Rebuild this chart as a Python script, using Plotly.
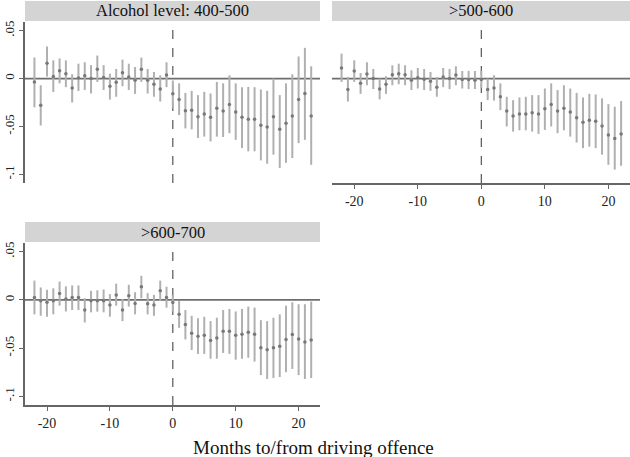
import plotly.graph_objects as go

months = list(range(-22, 23))

titles = ["Alcohol level: 400-500", ">500-600", ">600-700"]
x_title = "Months to/from driving offence"
y_tickvals = [-0.1, -0.05, 0, 0.05]
y_ticktext = ["-.1", "-.05", "0", ".05"]
x_tickvals = [-20, -10, 0, 10, 20]
x_ticktext = ["-20", "-10", "0", "10", "20"]

est_400 = [-0.0035, -0.028, 0.016, 0.002, 0.008, 0.005, -0.010, 0.0006, 0.003, 0.000, 0.0097,
           0.001, -0.008, -0.0038, 0.006, 0.0017, -0.0018, 0.0097, -0.0018, -0.006, -0.011, 0.0037,
           -0.016, -0.0218, -0.0336, -0.033, -0.040, -0.037, -0.0405, -0.031, -0.034, -0.027, -0.035,
           -0.0405, -0.0425, -0.0425, -0.0487, -0.0505, -0.040, -0.053, -0.0467, -0.039, -0.0218, -0.0156, -0.039]
lo_400 = [-0.030, -0.049, 0.002, -0.014, -0.005, -0.009, -0.025, -0.013, -0.012, -0.0156, -0.0035,
          -0.012, -0.022, -0.019, -0.008, -0.012, -0.016, -0.0035, -0.0156, -0.019, -0.024, -0.009,
          -0.031, -0.038, -0.052, -0.053, -0.062, -0.0606, -0.0657, -0.0606, -0.061, -0.057, -0.064,
          -0.0726, -0.076, -0.076, -0.0854, -0.0889, -0.0795, -0.0933, -0.088, -0.083, -0.0674, -0.064, -0.090]
hi_400 = [0.022, -0.007, 0.0335, 0.019, 0.021, 0.019, 0.0045, 0.0155, 0.017, 0.014, 0.024,
          0.014, 0.005, 0.010, 0.0197, 0.0155, 0.012, 0.0218, 0.010, 0.0068, 0.0034, 0.017,
          -0.002, -0.005, -0.015, -0.0128, -0.0173, -0.0139, -0.0156, -0.0035, -0.005, 0.0034, -0.005,
          -0.009, -0.0087, -0.009, -0.0114, -0.0128, 0.000, -0.0173, -0.005, 0.0045, 0.023, 0.032, 0.0128]

est_500 = [0.011, -0.0114, 0.0079, -0.005, 0.0048, 0.000, -0.011, -0.006, 0.004, 0.005, 0.004,
           -0.0018, 0.0007, -0.0007, -0.0028, -0.009, 0.0017, 0.000, 0.0037, -0.001, -0.001, -0.0018,
           -0.001, -0.0114, -0.010, -0.019, -0.034, -0.039, -0.037, -0.037, -0.0357, -0.037, -0.0315,
           -0.027, -0.034, -0.031, -0.035, -0.041, -0.0456, -0.0436, -0.0446, -0.0495, -0.0588, -0.0626, -0.0578]
lo_500 = [-0.0035, -0.024, -0.0035, -0.016, -0.007, -0.011, -0.0218, -0.016, -0.007, -0.006, -0.007,
          -0.012, -0.0104, -0.012, -0.0128, -0.019, -0.009, -0.011, -0.007, -0.0104, -0.011, -0.011,
          -0.010, -0.0225, -0.023, -0.033, -0.050, -0.0554, -0.054, -0.054, -0.0554, -0.0578, -0.0536,
          -0.050, -0.057, -0.054, -0.0606, -0.0668, -0.0726, -0.071, -0.0726, -0.0795, -0.090, -0.095, -0.091]
hi_500 = [0.026, 0.0017, 0.019, 0.0058, 0.017, 0.010, 0.000, 0.0024, 0.0138, 0.0155, 0.0138,
          0.0086, 0.011, 0.010, 0.0068, 0.0017, 0.011, 0.010, 0.0128, 0.0079, 0.008, 0.0079,
          0.008, 0.000, 0.0034, -0.005, -0.019, -0.0225, -0.0197, -0.019, -0.0173, -0.0173, -0.0104,
          -0.005, -0.012, -0.007, -0.0104, -0.015, -0.0197, -0.016, -0.0166, -0.0207, -0.0267, -0.0294, -0.0235]

est_600 = [0.0024, -0.001, -0.0024, -0.001, 0.0066, 0.001, 0.0024, 0.0024, -0.0105, -0.001, -0.001,
           -0.001, -0.0052, 0.0052, -0.0105, 0.0042, -0.0038, 0.0136, -0.004, -0.0052, 0.0094, 0.0024,
           -0.0028, -0.015, -0.0255, -0.0346, -0.0377, -0.0367, -0.042, -0.0395, -0.0325, -0.0325, -0.0367,
           -0.0356, -0.0335, -0.0356, -0.0496, -0.0517, -0.0496, -0.048, -0.041, -0.036, -0.0405, -0.0437, -0.0416]
lo_600 = [-0.015, -0.0165, -0.0175, -0.015, -0.006, -0.012, -0.0105, -0.0105, -0.0234, -0.0129, -0.0122,
          -0.0129, -0.0175, -0.006, -0.022, -0.007, -0.015, 0.0017, -0.015, -0.0165, -0.001, -0.008,
          -0.012, -0.029, -0.041, -0.052, -0.056, -0.056, -0.061, -0.061, -0.055, -0.056, -0.062,
          -0.061, -0.060, -0.064, -0.078, -0.082, -0.081, -0.080, -0.075, -0.0716, -0.078, -0.082, -0.081]
hi_600 = [0.020, 0.0129, 0.0105, 0.012, 0.019, 0.014, 0.015, 0.015, 0.0017, 0.0094, 0.010,
          0.0108, 0.006, 0.0168, 0.001, 0.0157, 0.008, 0.025, 0.007, 0.0052, 0.020, 0.0136,
          0.005, -0.001, -0.0105, -0.0165, -0.019, -0.0175, -0.022, -0.0185, -0.0105, -0.0094, -0.012,
          -0.0094, -0.007, -0.008, -0.021, -0.022, -0.0185, -0.015, -0.006, -0.0024, -0.0045, -0.0045, -0.0017]

series = [(est_400, lo_400, hi_400), (est_500, lo_500, hi_500), (est_600, lo_600, hi_600)]

W, H = 630, 457


def px(X):
    return X / W


def py(Y):
    return 1 - Y / H


# panel pixel boxes: plot area and header strip
panels = [
    dict(l=25, r=320, t=22, b=183, ht=1, hb=21),
    dict(l=332, r=630, t=22, b=183, ht=1, hb=21),
    dict(l=25, r=320, t=243, b=405, ht=222, hb=242),
]

fig = go.Figure()
font_fam = "Liberation Serif, Times New Roman, serif"
shapes = []
annotations = []
axis_names = ["", "2", "3"]

for i, (p, (est, lo, hi)) in enumerate(zip(panels, series)):
    xa = "x" + axis_names[i]
    ya = "y" + axis_names[i]
    plus = [h - e for h, e in zip(hi, est)]
    minus = [e - l for e, l in zip(est, lo)]
    fig.add_trace(go.Scatter(
        x=months, y=est, mode="markers", xaxis=xa, yaxis=ya,
        marker=dict(size=3.5, color="#787878"),
        error_y=dict(type="data", symmetric=False, array=plus, arrayminus=minus,
                     width=0, thickness=2, color="#b0b0b0"),
        showlegend=False, hoverinfo="skip"))
    xdom = [px(p["l"]), px(p["r"])]
    ydom = [py(p["b"]), py(p["t"])]
    show_x = i in (1, 2)
    show_y = i in (0, 2)
    fig.update_layout(**{
        ("xaxis" + axis_names[i]): dict(
            domain=xdom, range=[-23.5, 23.4], anchor=ya, automargin=False,
            showgrid=False, zeroline=False,
            showline=show_x, linecolor="#666", linewidth=1.5,
            ticks="outside" if show_x else "", ticklen=4, tickcolor="#666", tickwidth=1,
            tickvals=x_tickvals, ticktext=x_ticktext, showticklabels=show_x,
            tickfont=dict(family=font_fam, size=14, color="#222")),
        ("yaxis" + axis_names[i]): dict(
            domain=ydom, range=[-0.109, 0.059], anchor=xa, automargin=False,
            showgrid=False, zeroline=False,
            showline=show_y, linecolor="#666", linewidth=1.5,
            ticks="outside" if show_y else "", ticklen=4, tickcolor="#666", tickwidth=1,
            tickvals=y_tickvals, ticktext=y_ticktext, showticklabels=show_y,
            tickangle=-90, tickfont=dict(family=font_fam, size=13, color="#222")),
    })
    # zero line
    shapes.append(dict(type="line", xref=xa + " domain", yref=ya, x0=0, x1=1, y0=0, y1=0,
                       line=dict(color="#6e6e6e", width=1.8), layer="below"))
    # dashed vertical at 0
    shapes.append(dict(type="line", xref=xa, yref=ya + " domain", x0=0, x1=0, y0=0, y1=1,
                       line=dict(color="#555", width=1.2, dash="dash"), layer="below"))
    # header strip
    shapes.append(dict(type="rect", xref="paper", yref="paper",
                       x0=px(p["l"]), x1=px(p["r"]), y0=py(p["hb"]), y1=py(p["ht"]),
                       fillcolor="#d4d4d4", line=dict(width=0), layer="below"))
    annotations.append(dict(text=titles[i], xref="paper", yref="paper",
                            x=px((p["l"] + p["r"]) / 2), y=py((p["ht"] + p["hb"]) / 2),
                            xanchor="center", yanchor="middle", showarrow=False,
                            font=dict(family=font_fam, size=16.5, color="#111")))

annotations.append(dict(text=x_title, xref="paper", yref="paper", x=px(313), y=py(447),
                        xanchor="center", yanchor="middle", showarrow=False,
                        font=dict(family=font_fam, size=19, color="#111")))

fig.update_layout(width=W, height=H, margin=dict(l=0, r=0, t=0, b=0, autoexpand=False),
                  paper_bgcolor="white", plot_bgcolor="white",
                  shapes=shapes, annotations=annotations)

# remove the browser's default 8px body margin so the figure fills the window
fig.write_html("out.html", config={"displayModeBar": False},
               post_script="document.body.style.margin='0';")
